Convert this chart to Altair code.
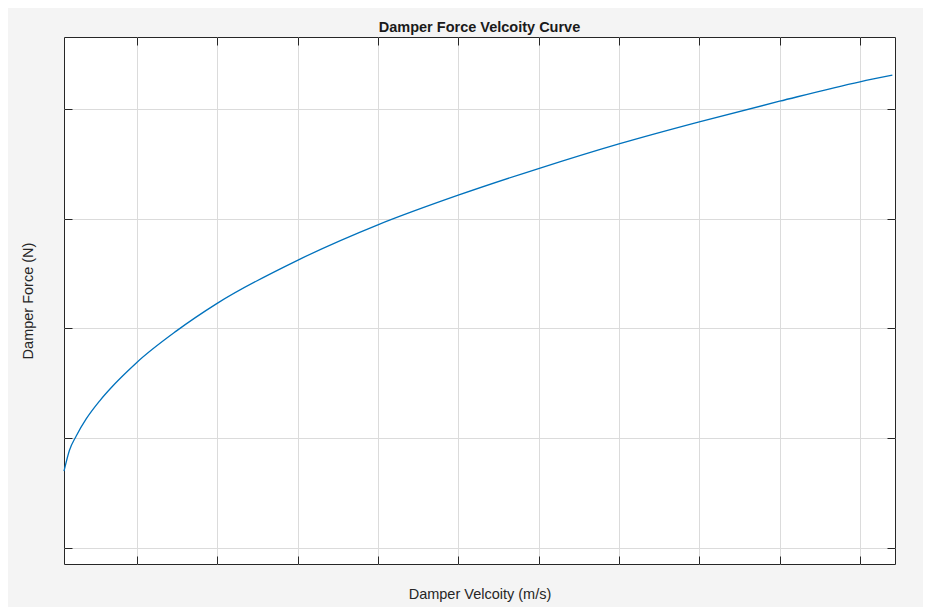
import altair as alt
import pandas as pd

# (arbitrary units: vertical grid lines at integer x, horizontal at integer y)
velocity = [0.094, 0.162, 0.246, 0.370, 0.536, 0.701, 0.868, 1.0, 1.49, 2.0,
            3.0, 4.0, 5.0, 6.0, 7.0, 8.0, 9.0, 10.0, 10.403]
force = [0.700, 0.890, 1.020, 1.175, 1.338, 1.475, 1.598, 1.690, 1.975, 2.228,
         2.620, 2.943, 3.213, 3.456, 3.681, 3.882, 4.069, 4.246, 4.306]
x_ticks = [1, 2, 3, 4, 5, 6, 7, 8, 9, 10]
y_ticks = [0, 1, 2, 3, 4]
x_domain = [0.094, 10.436]
y_domain = [-0.146, 4.654]

df = pd.DataFrame({"v": velocity, "f": force})

W, H = 831, 527
FRAME = "#262626"
GRID = "#dbdbdb"
FONT = "Liberation Sans"

xs = alt.Scale(domain=x_domain, nice=False, zero=False)
ys = alt.Scale(domain=y_domain, nice=False, zero=False)

common = dict(labels=False, domain=False, title=None, tickColor=FRAME,
              tickWidth=1, tickSize=8)

base = alt.Chart(df)

# Layer 1: curve + grid + inward ticks at bottom and left edges
l1 = base.mark_line(color="#0072BD", strokeWidth=1.3, interpolate="monotone").encode(
    x=alt.X("v:Q", scale=xs, axis=alt.Axis(orient="top", offset=-H, values=x_ticks,
                                           grid=True, gridColor=GRID, gridWidth=1, **common)),
    y=alt.Y("f:Q", scale=ys, axis=alt.Axis(orient="right", offset=-W, values=y_ticks,
                                           grid=True, gridColor=GRID, gridWidth=1, **common)),
)

# Layer 2: inward ticks at top and right edges
l2 = base.mark_line(opacity=0).encode(
    x=alt.X("v:Q", scale=xs, axis=alt.Axis(orient="bottom", offset=-H, values=x_ticks,
                                           grid=False, **common)),
    y=alt.Y("f:Q", scale=ys, axis=alt.Axis(orient="left", offset=-W, values=y_ticks,
                                           grid=False, **common)),
)

# Layer 3: axis titles
l3 = base.mark_line(opacity=0).encode(
    x=alt.X("v:Q", scale=xs, axis=alt.Axis(orient="bottom", labels=False, ticks=False,
                                           domain=False, grid=False,
                                           title="Damper Velcoity (m/s)", titlePadding=23)),
    y=alt.Y("f:Q", scale=ys, axis=alt.Axis(orient="left", labels=False, ticks=False,
                                           domain=False, grid=False,
                                           title="Damper Force (N)", titlePadding=29)),
)

chart = alt.layer(l1, l2, l3).resolve_scale(
    x="independent", y="independent"
).properties(
    width=W, height=H,
    title=alt.TitleParams("Damper Force Velcoity Curve", fontSize=14.5, font=FONT,
                          fontWeight="bold", color="#1a1a1a", anchor="middle", offset=1),
    autosize=alt.AutoSizeParams(type="none"),
    padding={"left": 56, "top": 29, "right": 28, "bottom": 43},
    background="#f4f4f4",
).configure_view(
    fill="white", stroke=FRAME, strokeWidth=1
).configure_axis(
    titleFont=FONT, titleFontSize=14.5, titleFontWeight="normal", titleColor="#262626",
)

chart.save("out.html", embed_options={"renderer": "svg", "actions": False})
